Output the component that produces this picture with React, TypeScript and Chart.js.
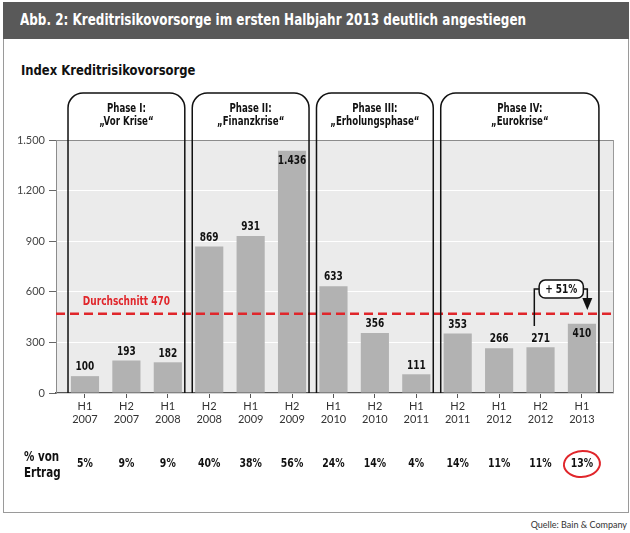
import React, { useEffect, useRef } from 'react';
import { Chart, registerables } from 'chart.js';

Chart.register(...registerables);

// ---- Data ----
const halves = ['H1', 'H2', 'H1', 'H2', 'H1', 'H2', 'H1', 'H2', 'H1', 'H2', 'H1', 'H2', 'H1'];
const years = ['2007', '2007', '2008', '2008', '2009', '2009', '2010', '2010', '2011', '2011', '2012', '2012', '2013'];
const values = [100, 193, 182, 869, 931, 1436, 633, 356, 111, 353, 266, 271, 410];
const valueLabels = ['100', '193', '182', '869', '931', '1.436', '633', '356', '111', '353', '266', '271', '410'];
const labelInside = [false, false, false, false, false, true, false, false, false, false, false, false, true];
const shareOfRevenue = ['5%', '9%', '9%', '40%', '38%', '56%', '24%', '14%', '4%', '14%', '11%', '11%', '13%'];
const phaseTitles = ['Phase I:', 'Phase II:', 'Phase III:', 'Phase IV:'];
const phaseNames = ['„Vor Krise“', '„Finanzkrise“', '„Erholungsphase“', '„Eurokrise“'];
const phaseFirst = [0, 3, 6, 9];
const phaseLast = [2, 5, 8, 12];
const average = 470;
const averageLabel = 'Durchschnitt 470';
const growthLabel = '+ 51%';
const growthFrom = 11;
const growthTo = 12;
const yMin = 0;
const yMax = 1500;
const yStep = 300;

const TITLE = 'Abb. 2: Kreditrisikovorsorge im ersten Halbjahr 2013 deutlich angestiegen';
const SUBTITLE = 'Index Kreditrisikovorsorge';
const ROW_LABEL = ['% von', 'Ertrag'];
const SOURCE = 'Quelle: Bain & Company';

const COND = "'Liberation Sans Narrow', 'DejaVu Sans Condensed', 'Roboto', sans-serif";
const REG = "'Lato', 'Open Sans', sans-serif";
const RED = '#e0262b';
const SX = 0.8;

function txt(ctx: any, s: string, x: number, y: number, align: string = 'center', sx: number = SX) {
  ctx.save();
  ctx.translate(x, y);
  ctx.scale(sx, 1);
  ctx.textAlign = align;
  ctx.textBaseline = 'middle';
  ctx.fillText(s, 0, 0);
  ctx.restore();
}

const overlayPlugin = {
  id: 'overlay',
  beforeDraw(chart: any) {
    const { ctx, chartArea: a } = chart;
    ctx.save();
    ctx.fillStyle = '#ebebeb';
    ctx.fillRect(a.left, a.top, a.right - a.left, a.bottom - a.top);
    ctx.restore();
  },
  afterDatasetsDraw(chart: any) {
    const { ctx, chartArea: a } = chart;
    const xs = chart.scales.x;
    const ys = chart.scales.y;
    ctx.save();

    // right border of plot
    ctx.strokeStyle = '#9a9a9a';
    ctx.lineWidth = 1;
    ctx.beginPath();
    ctx.moveTo(a.right + 0.5, a.top);
    ctx.lineTo(a.right + 0.5, a.bottom);
    ctx.stroke();

    // value labels
    ctx.fillStyle = '#111';
    ctx.font = `bold 12.5px ${COND}`;
    values.forEach((v, i) => {
      const px = xs.getPixelForValue(i);
      const py = ys.getPixelForValue(v);
      txt(ctx, valueLabels[i], px, labelInside[i] ? py + 10 : py - 9);
    });

    // average line
    const ay = ys.getPixelForValue(average);
    ctx.strokeStyle = RED;
    ctx.lineWidth = 2.5;
    ctx.setLineDash([9, 5]);
    ctx.beginPath();
    ctx.moveTo(a.left, ay);
    ctx.lineTo(a.right, ay);
    ctx.stroke();
    ctx.setLineDash([]);
    ctx.fillStyle = RED;
    ctx.font = `bold 12.5px ${COND}`;
    txt(ctx, averageLabel, xs.getPixelForValue(1), ay - 12);

    // phase boxes
    const top = a.top - 47;
    const r = 15;
    ctx.strokeStyle = '#111';
    ctx.lineWidth = 1.5;
    phaseFirst.forEach((f, k) => {
      const x1 = xs.getPixelForValue(f - 0.41);
      const x2 = xs.getPixelForValue(phaseLast[k] + 0.41);
      ctx.beginPath();
      ctx.moveTo(x1, a.bottom);
      ctx.lineTo(x1, top + r);
      ctx.arcTo(x1, top, x1 + r, top, r);
      ctx.lineTo(x2 - r, top);
      ctx.arcTo(x2, top, x2, top + r, r);
      ctx.lineTo(x2, a.bottom);
      ctx.stroke();
      const cx = (x1 + x2) / 2;
      ctx.fillStyle = '#111';
      ctx.font = `bold 12px ${COND}`;
      txt(ctx, phaseTitles[k], cx, a.top - 31);
      txt(ctx, phaseNames[k], cx, a.top - 18);
    });

    // growth annotation
    ctx.font = `bold 12.5px ${COND}`;
    const tw = ctx.measureText(growthLabel).width * SX;
    const bcx = xs.getPixelForValue((growthFrom + growthTo) / 2);
    const bcy = ys.getPixelForValue(616);
    const bw = tw + 12;
    const bh = 18;
    const lx = xs.getPixelForValue(growthFrom - 0.15);
    const rx = xs.getPixelForValue(growthTo + 0.13);
    const ly = ys.getPixelForValue(397);
    const tipY = ys.getPixelForValue(492);
    ctx.strokeStyle = '#111';
    ctx.lineWidth = 1.5;
    ctx.beginPath();
    ctx.moveTo(lx, ly);
    ctx.lineTo(lx, bcy);
    ctx.lineTo(bcx - bw / 2, bcy);
    ctx.moveTo(bcx + bw / 2, bcy);
    ctx.lineTo(rx, bcy);
    ctx.lineTo(rx, tipY - 10);
    ctx.stroke();
    ctx.fillStyle = '#111';
    ctx.beginPath();
    ctx.moveTo(rx - 5, tipY - 12);
    ctx.lineTo(rx + 5, tipY - 12);
    ctx.lineTo(rx, tipY);
    ctx.closePath();
    ctx.fill();
    ctx.fillStyle = '#fff';
    ctx.beginPath();
    ctx.roundRect(bcx - bw / 2, bcy - bh / 2, bw, bh, 6);
    ctx.fill();
    ctx.stroke();
    ctx.fillStyle = '#111';
    txt(ctx, growthLabel, bcx, bcy + 0.5);

    // bottom row
    const rowY = a.bottom + 71;
    ctx.font = `bold 13px ${COND}`;
    ctx.fillStyle = '#111';
    shareOfRevenue.forEach((s, i) => {
      txt(ctx, s, xs.getPixelForValue(i), rowY);
    });
    ctx.font = `bold 14px ${COND}`;
    txt(ctx, ROW_LABEL[0], 24, rowY - 7, 'left', 0.82);
    txt(ctx, ROW_LABEL[1], 24, rowY + 9, 'left', 0.82);

    // red circle
    const ex = xs.getPixelForValue(values.length - 1);
    ctx.strokeStyle = RED;
    ctx.lineWidth = 2;
    ctx.beginPath();
    ctx.ellipse(ex, rowY, 18, 13, -0.08, -2.0, -2.0 + Math.PI * 2 + 0.45);
    ctx.stroke();

    ctx.restore();
  },
};

export default function App() {
  const ref = useRef<HTMLCanvasElement | null>(null);

  useEffect(() => {
    document.body.style.margin = '0';
    const canvas = ref.current;
    if (!canvas) return;
    const chart = new Chart(canvas, {
      type: 'bar',
      data: {
        datasets: [
          {
            data: values.map((v, i) => ({ x: i, y: v })),
            backgroundColor: '#b2b2b2',
            borderWidth: 0,
            categoryPercentage: 1,
            barPercentage: 0.68,
          },
        ],
      },
      options: {
        responsive: false,
        animation: false,
        layout: { padding: { left: 0, top: 140, right: 17, bottom: 100 } },
        plugins: { legend: { display: false }, tooltip: { enabled: false } },
        scales: {
          x: {
            type: 'linear',
            offset: false,
            min: -0.7,
            max: 12.75,
            afterBuildTicks: (s: any) => {
              s.ticks = values.map((_, i) => ({ value: i }));
            },
            afterFit: (s: any) => {
              s.height = 40;
            },
            ticks: {
              autoSkip: false,
              maxRotation: 0,
              padding: 2,
              color: '#333',
              font: { family: REG, size: 11 },
              callback: (v: any) => [halves[v], years[v]],
            },
            grid: { offset: false, drawOnChartArea: false, drawTicks: true, tickLength: 5, tickColor: '#555' },
            border: { color: '#555', width: 1.2 },
          },
          y: {
            min: yMin,
            max: yMax,
            afterFit: (s: any) => {
              s.width = 56;
            },
            ticks: {
              stepSize: yStep,
              padding: 4,
              color: '#444',
              font: { family: REG, size: 11 },
              callback: (v: any) => Number(v).toLocaleString('de-DE'),
            },
            grid: {
              color: (c: any) => (c.tick && c.tick.value === yMax ? '#8c8c8c' : '#ffffff'),
              lineWidth: 1,
              tickLength: 7,
              tickColor: '#666',
            },
            border: { color: '#8c8c8c', width: 1 },
          },
        },
      },
      plugins: [overlayPlugin],
    });
    return () => chart.destroy();
  }, []);

  return (
    <div style={{ position: 'relative', width: 630, height: 533, background: '#fff', overflow: 'hidden' }}>
      <div
        style={{
          position: 'absolute',
          left: 3,
          top: 2,
          width: 624,
          height: 509,
          border: '1px solid #9a9a9a',
        }}
      />
      <div
        style={{
          position: 'absolute',
          left: 3,
          top: 2,
          width: 626,
          height: 37,
          background: '#595959',
        }}
      />
      <div
        style={{
          position: 'absolute',
          left: 20,
          top: 2,
          color: '#fff',
          fontFamily: COND,
          fontWeight: 'bold',
          fontSize: 15.5,
          lineHeight: '37px',
          whiteSpace: 'nowrap',
          transform: 'scaleX(0.86)',
          transformOrigin: 'left center',
        }}
      >
        {TITLE}
      </div>
      <div
        style={{
          position: 'absolute',
          left: 21,
          top: 61,
          fontFamily: COND,
          fontWeight: 'bold',
          fontSize: 14,
          lineHeight: '18px',
          color: '#111',
          whiteSpace: 'nowrap',
          transform: 'scaleX(0.92)',
          transformOrigin: 'left center',
        }}
      >
        {SUBTITLE}
      </div>
      <div
        style={{
          position: 'absolute',
          right: 3,
          top: 518,
          fontFamily: REG,
          fontSize: 9,
          lineHeight: '14px',
          color: '#333',
          whiteSpace: 'nowrap',
        }}
      >
        {SOURCE}
      </div>
      <canvas ref={ref} width={630} height={533} style={{ position: 'absolute', left: 0, top: 0 }} />
    </div>
  );
}
